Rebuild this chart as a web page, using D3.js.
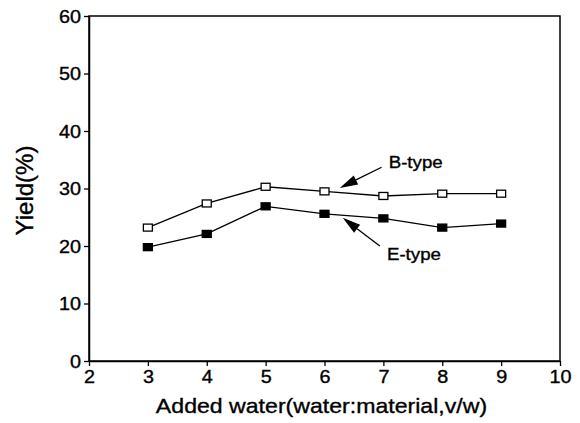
<!DOCTYPE html>
<html><head><meta charset="utf-8">
<script src="https://cdn.jsdelivr.net/npm/d3@7"></script>
<style>
html,body{margin:0;padding:0;background:#fff;}
text{font-family:"Liberation Sans",Arial,Helvetica,sans-serif;fill:#000;stroke:#000;stroke-width:0.35px;}
</style></head>
<body>
<svg id="chart" width="580" height="423"></svg>
<script>
const waterRatio = [3, 4, 5, 6, 7, 8, 9];
const bType = [23.2, 27.4, 30.3, 29.5, 28.7, 29.1, 29.1];
const eType = [19.8, 22.1, 26.9, 25.6, 24.8, 23.2, 23.9];
const xTicks = [2, 3, 4, 5, 6, 7, 8, 9, 10];
const yTicks = [0, 10, 20, 30, 40, 50, 60];
const annotations = [
  {label: "B-type", textX: 7.09, textY: 33.6, fromX: 6.97, fromY: 33.7, toX: 6.26, toY: 30.1},
  {label: "E-type", textX: 7.06, textY: 17.6, fromX: 6.94, fromY: 20.0, toX: 6.31, toY: 24.9}
];

const svg = d3.select("#chart");
const L = 89, R = 560, T = 16, B = 361;
const x = d3.scaleLinear().domain([2, 10]).range([L, R]);
const y = d3.scaleLinear().domain([0, 60]).range([B, T]);
const stretch = 1.1;
function widen(sel){ sel.each(function(){ const w=this.getComputedTextLength(); d3.select(this).attr("textLength", w*stretch).attr("lengthAdjust","spacingAndGlyphs"); }); }

// frame
svg.append("rect").attr("x", L).attr("y", T).attr("width", R-L).attr("height", B-T)
  .attr("fill","none").attr("stroke","#000").attr("stroke-width",1.5);

// axes
const xAxis = svg.append("g").attr("transform",`translate(0,${B})`)
  .call(d3.axisBottom(x).tickValues(xTicks).tickSize(5).tickSizeOuter(0).tickPadding(3).tickFormat(d3.format("d")));
const yAxis = svg.append("g").attr("transform",`translate(${L},0)`)
  .call(d3.axisLeft(y).tickValues(yTicks).tickSize(5).tickSizeOuter(0).tickPadding(3).tickFormat(d3.format("d")));
[xAxis, yAxis].forEach(g => {
  g.select(".domain").attr("stroke","#000").attr("stroke-width",1.5);
  g.selectAll(".tick line").attr("stroke","#000").attr("stroke-width",1.3);
  g.selectAll(".tick text").attr("font-size",18).attr("font-family",'"Liberation Sans",Arial,sans-serif').attr("fill","#000").call(widen);
});
xAxis.selectAll(".tick text").attr("dy","0.78em");
yAxis.selectAll(".tick text").attr("dy","0.36em");

// titles
svg.append("text").attr("x",(136+507)/2).attr("y",413).attr("text-anchor","middle")
  .attr("font-size",21).text("Added water(water:material,v/w)").call(widen);
svg.append("text").attr("transform",`translate(33,${(T+B)/2 + 2}) rotate(-90)`).attr("text-anchor","middle")
  .attr("font-size",24).text("Yield(%)");

// series
const series = [{vals: bType, fill: "#fff"}, {vals: eType, fill: "#000"}];
const line = d3.line().x(d => x(d[0])).y(d => y(d[1]));
series.forEach(s => {
  const pts = waterRatio.map((w,i) => [w, s.vals[i]]);
  svg.append("path").datum(pts).attr("d", line).attr("fill","none").attr("stroke","#000").attr("stroke-width",1.3);
  svg.selectAll(null).data(pts).enter().append("rect")
    .attr("x", d => x(d[0]) - 4.5).attr("y", d => y(d[1]) - 3.5)
    .attr("width", 9).attr("height", 7)
    .attr("fill", s.fill).attr("stroke","#000").attr("stroke-width",1.3);
});

// annotations
annotations.forEach(a => {
  const x1 = x(a.fromX), y1 = y(a.fromY), x2 = x(a.toX), y2 = y(a.toY);
  const ang = Math.atan2(y2 - y1, x2 - x1);
  const len = 18, hw = 5;
  const bx = x2 - len*Math.cos(ang), by = y2 - len*Math.sin(ang);
  svg.append("line").attr("x1",x1).attr("y1",y1).attr("x2",bx).attr("y2",by).attr("stroke","#000").attr("stroke-width",1.3);
  const p = [[x2,y2],[bx - hw*Math.sin(ang), by + hw*Math.cos(ang)],[bx + hw*Math.sin(ang), by - hw*Math.cos(ang)]];
  svg.append("path").attr("d", d3.line()(p) + "Z").attr("fill","#000");
  svg.append("text").attr("x", x(a.textX)).attr("y", y(a.textY)).attr("font-size",17).text(a.label).call(widen);
});
</script>
</body></html>
